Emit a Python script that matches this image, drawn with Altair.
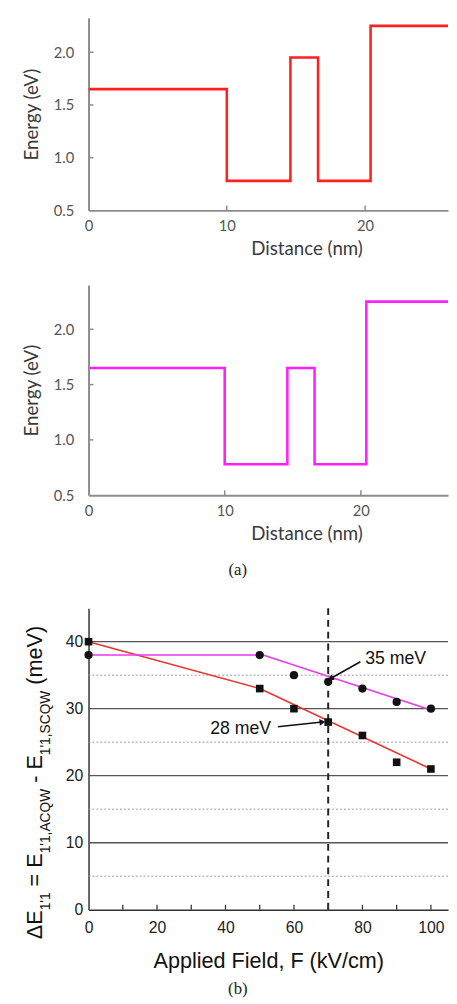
import math
import altair as alt
import pandas as pd

# ---------------- data ----------------
# (a) top panel: conduction band profile (step-after breakpoints)
dist_top = [0, 10, 14.6, 16.6, 20.4, 27]
energy_top = [1.65, 0.78, 1.95, 0.78, 2.25, 2.25]
# (a) bottom panel
dist_bot = [0, 10, 14.6, 16.6, 20.4, 27]
energy_bot = [1.65, 0.78, 1.65, 0.78, 2.25, 2.25]
dist_ticks = [0, 10, 20]
dist_minor = [10, 20]
energy_ticks = [0.5, 1.0, 1.5, 2.0]
energy_minor = [1.0, 1.5, 2.0]

# (b) energy difference vs applied field
field = [0, 50, 60, 70, 80, 90, 100]
sq_vals = [40, 33, 30, 28, 26, 22, 21]
circ_vals = [38, 38, 35, 34, 33, 31, 30]
fit_sq_x = [0, 50, 100]
fit_sq_y = [40, 33, 21]
fit_circ_x = [0, 51, 100]
fit_circ_y = [38, 38, 29.8]
grid_major = [10, 20, 30, 40]
grid_minor = [5, 15, 25, 35]
field_ticks = [0, 20, 40, 60, 80, 100]
field_minor = [10, 20, 30, 40, 50, 60, 70, 80, 90, 100]
delta_ticks = [0, 10, 20, 30, 40]
mark_field = [70]

ann_text = ["35 meV", "28 meV"]
ann_tx = [80.8, 53.3]
ann_ty = [37.4, 27.0]
arr_x0 = [79.4, 55.3]
arr_y0 = [37.0, 27.3]
arr_x1 = [70.7, 68.3]
arr_y1 = [34.5, 28.0]

# ---------------- layout / style ----------------
W = 366
H1, H2, H3 = 196, 214, 307
GAP = 10
SANS_A = "Lato"
SANS_B = "Liberation Sans"
SERIF = "Liberation Serif"
AX_GRAY = "#8c8c8c"
one = pd.DataFrame({"k": [0]})


def band_panel(d, e, color, H, xdom, ydom):
    df = pd.DataFrame({"d": d, "e": e})
    xs = alt.Scale(domain=xdom, nice=False, zero=False)
    ys = alt.Scale(domain=ydom, nice=False, zero=False)
    xax = alt.Axis(values=dist_ticks, title="Distance (nm)", ticks=False, grid=False,
                   labelFont=SANS_A, labelFontSize=15, labelColor="#555", labelPadding=9,
                   titleFont=SANS_A, titleFontSize=19, titleFontWeight="normal", titleColor="#3a3a3a",
                   titleX=222, titleY=30, titleBaseline="top", titleAlign="center",
                   domainColor=AX_GRAY, domainWidth=2, labelFlush=False)
    yax = alt.Axis(values=energy_ticks, format=".1f", title="Energy (eV)", ticks=False, grid=False,
                   labelFont=SANS_A, labelFontSize=15, labelColor="#555", labelPadding=15,
                   titleFont=SANS_A, titleFontSize=19, titleFontWeight="normal", titleColor="#3a3a3a",
                   titlePadding=12, domainColor=AX_GRAY, domainWidth=2)
    line = alt.Chart(df).mark_line(interpolate="step-after", color=color, strokeWidth=2.6,
                                   clip=True).encode(
        x=alt.X("d:Q", scale=xs, axis=xax), y=alt.Y("e:Q", scale=ys, axis=yax))
    tkx = alt.Chart(pd.DataFrame({"d": dist_minor})).mark_rule(color=AX_GRAY, strokeWidth=1.5).encode(
        x=alt.X("d:Q", scale=xs, axis=xax), y=alt.value(H), y2=alt.value(H - 5))
    tky = alt.Chart(pd.DataFrame({"e": energy_minor})).mark_rule(color=AX_GRAY, strokeWidth=1.5).encode(
        y=alt.Y("e:Q", scale=ys, axis=yax), x=alt.value(0), x2=alt.value(5))
    return alt.layer(line, tkx, tky).properties(width=W, height=H)


def spacer(h):
    return alt.Chart(one).mark_point(opacity=0).properties(width=W, height=h)


p1 = band_panel(dist_top, energy_top, "#ff2020", H1, [0, 26], [0.5, 2.326])
p2 = band_panel(dist_bot, energy_bot, "#ff20ff", H2, [0, 26.4], [0.5, 2.4])

label_a = alt.Chart(one).mark_text(text="(a)", font=SERIF, fontSize=17, color="#222",
                                   align="center", baseline="middle").encode(
    x=alt.value(152), y=alt.value(290))
p2 = alt.layer(p2, label_a)

# ---------------- panel (b) ----------------
XDOM, YDOM = [0, 105], [0, 45]
xs3 = alt.Scale(domain=XDOM, nice=False, zero=False)
ys3 = alt.Scale(domain=YDOM, nice=False, zero=False)
xax3 = alt.Axis(values=field_ticks, title="Applied Field, F (kV/cm)", ticks=False, grid=False,
                labelFont=SANS_B, labelFontSize=16, labelColor="#222", labelPadding=10,
                titleFont=SANS_B, titleFontSize=22, titleFontWeight="normal", titleColor="#111",
                titlePadding=16, domainColor="#333", domainWidth=1.5, labelFlush=False)
yax3 = alt.Axis(values=delta_ticks, title=None, ticks=False, grid=False,
                labelFont=SANS_B, labelFontSize=16, labelColor="#222", labelPadding=6,
                domainColor="#333", domainWidth=1.5)


def X(f):
    return alt.X(f, scale=xs3, axis=xax3)


def Y(f):
    return alt.Y(f, scale=ys3, axis=yax3)


g_major = alt.Chart(pd.DataFrame({"v": grid_major})).mark_rule(color="#555", strokeWidth=1.4).encode(y=Y("v:Q"))
g_minor = alt.Chart(pd.DataFrame({"v": grid_minor})).mark_rule(
    color="#9a9a9a", strokeWidth=1, strokeDash=[2, 2]).encode(y=Y("v:Q"))
vline = alt.Chart(pd.DataFrame({"f": mark_field})).mark_rule(
    color="#222", strokeWidth=2, strokeDash=[7, 5]).encode(x=X("f:Q"))
ticks3 = alt.Chart(pd.DataFrame({"f": field_minor})).mark_rule(color="#333", strokeWidth=1.3).encode(
    x=X("f:Q"), y=alt.value(H3), y2=alt.value(H3 - 5))

fit1 = alt.Chart(pd.DataFrame({"f": fit_sq_x, "v": fit_sq_y})).mark_line(
    color="#e8342c", strokeWidth=1.6).encode(x=X("f:Q"), y=Y("v:Q"))
fit2 = alt.Chart(pd.DataFrame({"f": fit_circ_x, "v": fit_circ_y})).mark_line(
    color="#ea38ea", strokeWidth=1.6).encode(x=X("f:Q"), y=Y("v:Q"))
sq = alt.Chart(pd.DataFrame({"f": field, "v": sq_vals})).mark_point(
    shape="square", filled=True, color="#111", size=60, opacity=1).encode(x=X("f:Q"), y=Y("v:Q"))
ci = alt.Chart(pd.DataFrame({"f": field, "v": circ_vals})).mark_point(
    shape="circle", filled=True, color="#111", size=70, opacity=1).encode(x=X("f:Q"), y=Y("v:Q"))

px_x = W / (XDOM[1] - XDOM[0])
px_y = H3 / (YDOM[1] - YDOM[0])
angles = [math.degrees(math.atan2((x1 - x0) * px_x, (y1 - y0) * px_y))
          for x0, y0, x1, y1 in zip(arr_x0, arr_y0, arr_x1, arr_y1)]
arr_df = pd.DataFrame({"f": arr_x0, "v": arr_y0, "f2": arr_x1, "v2": arr_y1, "ang": angles})
arr_line = alt.Chart(arr_df).mark_rule(color="#111", strokeWidth=1.6).encode(
    x=X("f:Q"), y=Y("v:Q"), x2="f2:Q", y2="v2:Q")
arr_head = alt.Chart(arr_df).mark_point(shape="triangle-up", filled=True, color="#111", size=45,
                                        opacity=1).encode(
    x=X("f2:Q"), y=Y("v2:Q"), angle=alt.Angle("ang:Q", scale=None))
ann_df = pd.DataFrame({"f": ann_tx, "v": ann_ty, "t": ann_text})
ann_l = alt.Chart(ann_df[ann_df.index == 0]).mark_text(
    font=SANS_B, fontSize=18, color="#111", align="left", baseline="middle").encode(
    x=X("f:Q"), y=Y("v:Q"), text="t:N")
ann_r = alt.Chart(ann_df[ann_df.index == 1]).mark_text(
    font=SANS_B, fontSize=18, color="#111", align="right", baseline="middle").encode(
    x=X("f:Q"), y=Y("v:Q"), text="t:N")

# composite y-axis title  ΔE_1'1 = E_1'1,ACQW - E_1'1,SCQW (meV), laid out bottom-to-top
BIG, SUB = 22, 14
ARIAL_W = {"Δ": 0.668, "E": 0.667, "1": 0.556, "'": 0.191, ",": 0.278, "A": 0.667,
           "C": 0.722, "Q": 0.778, "W": 0.944, "S": 0.667, "=": 0.584, "-": 0.333,
           "(": 0.333, "m": 0.833, "e": 0.556, "V": 0.667, ")": 0.333, " ": 0.278}
title_segs = ["ΔE", "1'1", " ", "=", " ", "E", "1'1,ACQW", " ", "-", " ", "E", "1'1,SCQW", " ", "(meV)"]
title_sub = [False, True, False, False, False, False, True, False, False, False, False, True, False, False]
pos = 337.0
tparts = []
for s, sub in zip(title_segs, title_sub):
    fs = SUB if sub else BIG
    wdt = sum(ARIAL_W[c] for c in s) * fs
    if s.strip():
        tparts.append(alt.Chart(one).mark_text(
            text=s, angle=270, align="left", baseline="alphabetic", font=SANS_B,
            fontSize=fs, color="#111").encode(
            x=alt.value(-39 if sub else -47), y=alt.value(pos)))
    pos -= wdt

label_b = alt.Chart(one).mark_text(text="(b)", font=SERIF, fontSize=17, color="#222",
                                   align="center", baseline="middle").encode(
    x=alt.value(152), y=alt.value(388))

p3 = alt.layer(g_minor, g_major, vline, ticks3, fit1, fit2, sq, ci, arr_line, arr_head,
               ann_l, ann_r, label_b, *tparts).properties(width=W, height=H3)

# gaps between plot areas: ~76 px (p1-p2) and 115 px (p2-p3)
chart = alt.vconcat(
    p1, spacer(76 - 2 * GAP), p2, spacer(115 - 2 * GAP), p3,
    spacing=GAP, bounds="flush"
).properties(
    padding={"left": 15, "top": 1, "right": 0, "bottom": 0}
).configure_view(stroke=None)

chart.save("out.html", embed_options={"renderer": "svg", "actions": False})
